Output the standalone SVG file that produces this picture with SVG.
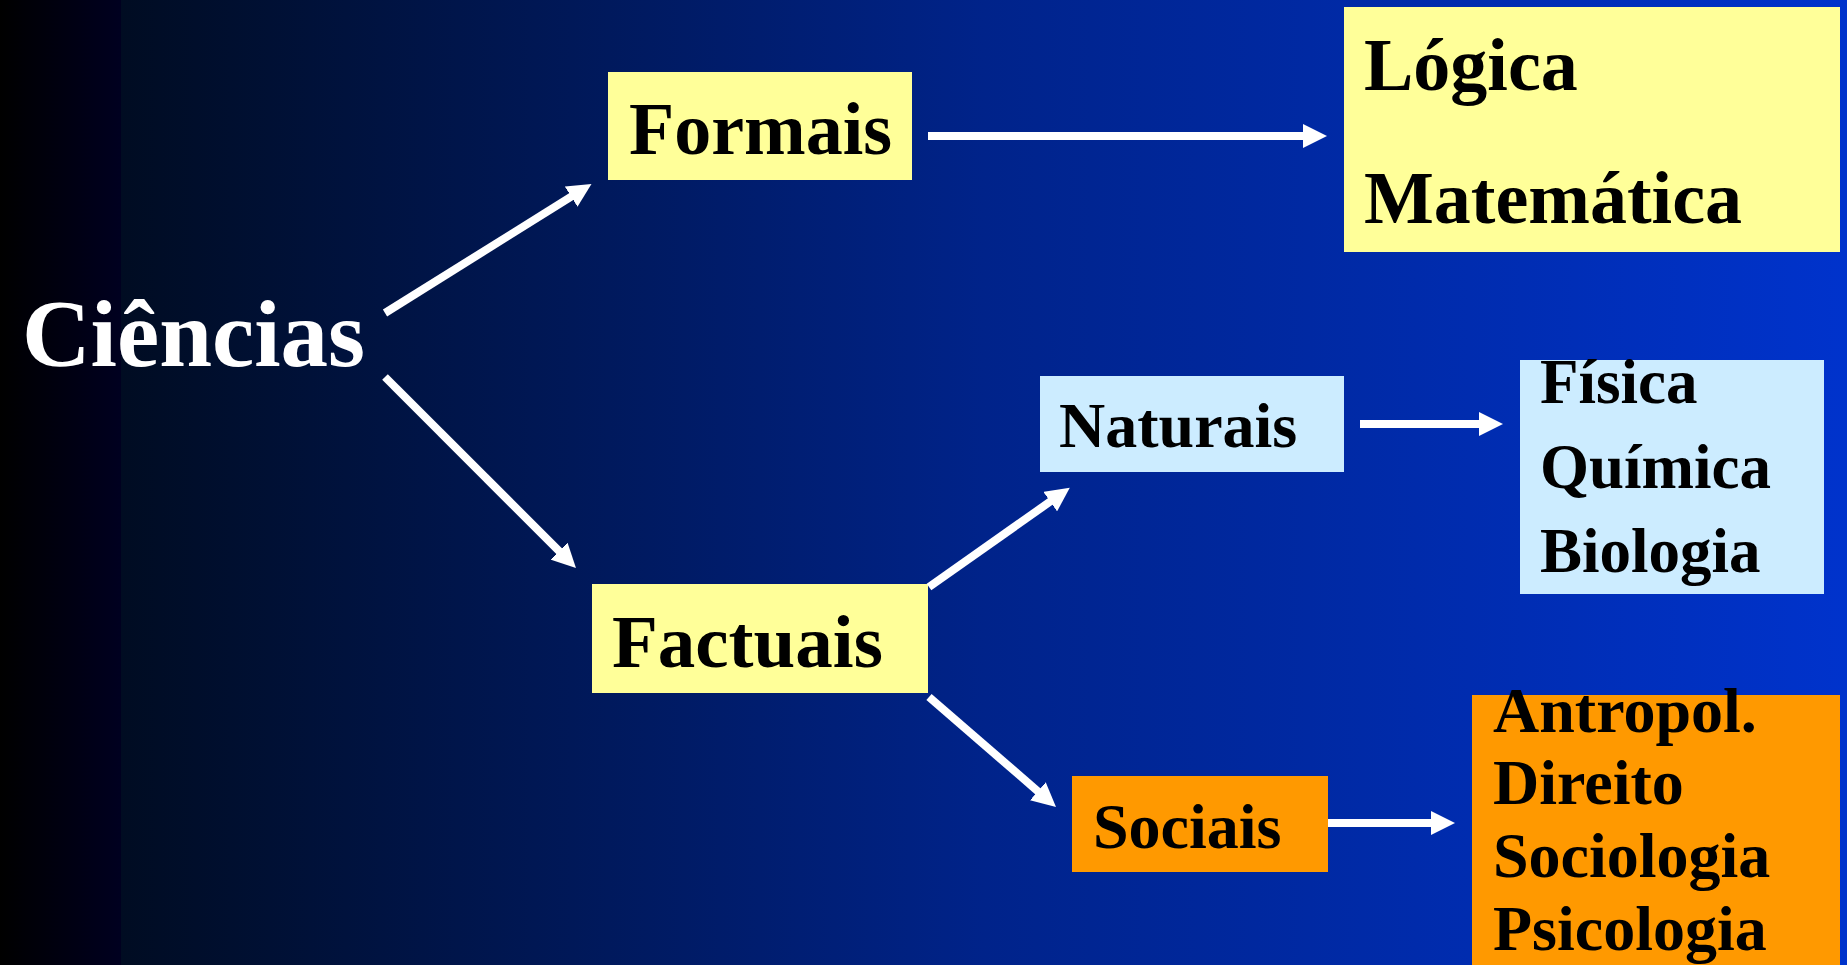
<svg xmlns="http://www.w3.org/2000/svg" width="1847" height="965" viewBox="0 0 1847 965">
<defs>
<linearGradient id="bgL" x1="0" y1="0" x2="1" y2="0">
<stop offset="0" stop-color="#000000"/>
<stop offset="1" stop-color="#000020"/>
</linearGradient>
<linearGradient id="bgR" x1="0" y1="0" x2="1" y2="0">
<stop offset="0" stop-color="#000c22"/>
<stop offset="0.5" stop-color="#00238a"/>
<stop offset="1" stop-color="#0033cc"/>
</linearGradient>
<marker id="ah" viewBox="0 0 10 10" markerWidth="3" markerHeight="3" refX="2" refY="5" orient="auto">
<path d="M0,0 L10,5 L0,10 z" fill="#ffffff"/>
</marker>
<style>
.t{font-family:"Liberation Serif","Times New Roman",serif;font-weight:bold;fill:#000}
.w{fill:#fff}
.y{fill:#ffff99}
.b{fill:#ccecff}
.o{fill:#ff9900}
.c{stroke:#fff;stroke-width:8;fill:none;marker-end:url(#ah)}
</style>
</defs>
<rect x="0" y="0" width="121" height="965" fill="url(#bgL)"/>
<rect x="121" y="0" width="1726" height="965" fill="url(#bgR)"/>
<g id="ciencias">
<text class="t w" x="22" y="366" font-size="95">Ciências</text>
</g>
<g id="formais">
<rect class="y" x="608" y="72" width="304" height="108"/>
<text class="t" x="629" y="154" font-size="74">Formais</text>
</g>
<g id="factuais">
<rect class="y" x="592" y="584" width="336" height="109"/>
<text class="t" x="612" y="667" font-size="75">Factuais</text>
</g>
<g id="logica">
<rect class="y" x="1344" y="7" width="496" height="245"/>
<text class="t" x="1364" y="90" font-size="74">Lógica</text>
<text class="t" x="1364" y="223" font-size="74">Matemática</text>
</g>
<g id="naturais">
<rect class="b" x="1040" y="376" width="304" height="96"/>
<text class="t" x="1059" y="447" font-size="64">Naturais</text>
</g>
<g id="fisica">
<rect class="b" x="1520" y="360" width="304" height="234"/>
<text class="t" x="1540" y="403" font-size="63">Física</text>
<text class="t" x="1540" y="488" font-size="63">Química</text>
<text class="t" x="1540" y="572" font-size="63">Biologia</text>
</g>
<g id="sociais">
<rect class="o" x="1072" y="776" width="256" height="96"/>
<text class="t" x="1093" y="848" font-size="64">Sociais</text>
</g>
<g id="humanas">
<rect class="o" x="1472" y="695" width="368" height="280"/>
<text class="t" x="1493" y="732" font-size="64">Antropol.</text>
<text class="t" x="1493" y="804" font-size="64">Direito</text>
<text class="t" x="1493" y="877" font-size="64">Sociologia</text>
<text class="t" x="1493" y="950" font-size="64">Psicologia</text>
</g>
<g id="connectors">
<line class="c" x1="385" y1="313" x2="575.2" y2="194.1"/>
<line class="c" x1="385" y1="377" x2="562.4" y2="554.4"/>
<line class="c" x1="928" y1="136" x2="1307.8" y2="136"/>
<line class="c" x1="929" y1="587" x2="1054.1" y2="498.8"/>
<line class="c" x1="929" y1="697" x2="1041.5" y2="794.4"/>
<line class="c" x1="1360" y1="424" x2="1483.8" y2="424"/>
<line class="c" x1="1328" y1="823" x2="1435.8" y2="823"/>
</g>
</svg>
